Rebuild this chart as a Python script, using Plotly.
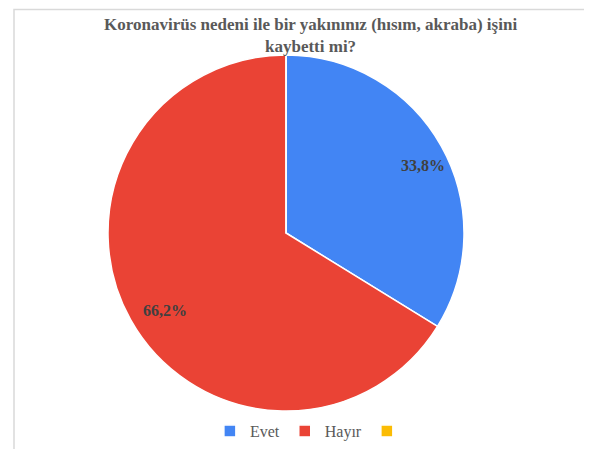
import math
import plotly.graph_objects as go

labels = ["Evet", "Hayır", " "]
values = [33.8, 66.2, 0]
text_labels = ["33,8%", "66,2%", ""]
colors = ["#4285F4", "#EA4335", "#FBBC04"]
title_text = "<b>Koronavirüs nedeni ile bir yakınınız (hısım, akraba) işini<br>kaybetti mi?</b>"

SERIF = "Liberation Serif"
W, H = 592, 449
cx, cy, r = 278, 225, 178

fig = go.Figure(go.Pie(
    labels=labels, values=values,
    textinfo="none",
    marker=dict(colors=colors, line=dict(color="white", width=1.5)),
    sort=False, direction="clockwise", rotation=0,
    domain=dict(x=[(cx - r) / W, (cx + r) / W], y=[1 - (cy + r) / H, 1 - (cy - r) / H]),
    hoverinfo="label+percent",
))

# data labels placed at each slice's mid-angle (derived from values)
pcx, pcy, pr = 286, 230, 176  # rendered center/radius in pixels
annotations = []
total = sum(values)
cum = 0.0
for v, t in zip(values, text_labels):
    if v > 0:
        mid = (cum + v / 2) / total * 2 * math.pi
        px = pcx + 0.84 * pr * math.sin(mid)
        py = pcy - 0.84 * pr * math.cos(mid)
        annotations.append(dict(
            text="<b>" + t + "</b>", xref="paper", yref="paper",
            x=px / W, y=1 - py / H, xanchor="center", yanchor="middle",
            showarrow=False, font=dict(family=SERIF, size=16, color="#404040"),
        ))
    cum += v

annotations.append(dict(
    text=title_text, xref="paper", yref="paper",
    x=302 / W, xanchor="center", y=1 - 5 / H, yanchor="top",
    showarrow=False, align="center",
    font=dict(family=SERIF, size=17, color="#595959"),
))

fig.update_layout(
    width=W, height=H,
    margin=dict(l=0, r=0, t=0, b=0),
    paper_bgcolor="white",
    font=dict(family=SERIF),
    annotations=annotations,
    legend=dict(
        orientation="h", x=0.515, xanchor="center", y=1 - 406 / H, yanchor="top",
        font=dict(family=SERIF, size=16, color="#595959"),
        traceorder="normal", itemwidth=30,
    ),
    shapes=[dict(type="rect", xref="paper", yref="paper",
                 x0=6 / W, x1=1.01, y0=1 - 446 / H, y1=1 - 1.5 / H,
                 line=dict(color="#d9d9d9", width=1.5))],
)

fig.write_html("out.html")
